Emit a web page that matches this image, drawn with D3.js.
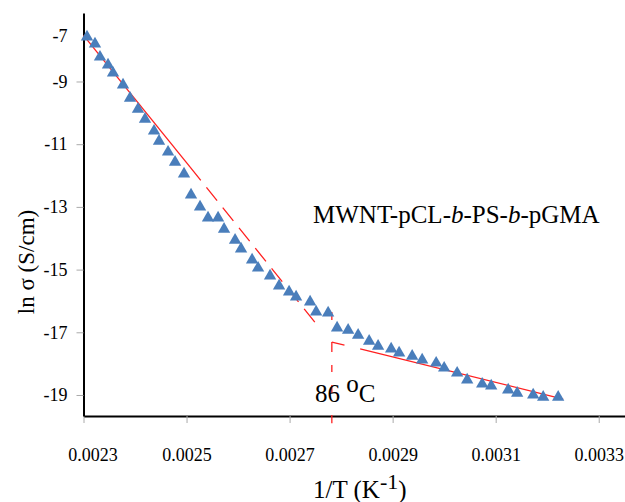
<!DOCTYPE html>
<html lang="en">
<head>
  <meta charset="UTF-8">
  <title>ln sigma vs 1/T</title>
  <style>
    body { margin: 0; background: #fff; }
  </style>
</head>
<body>

  <svg id="svg" width="625" height="502"></svg>

  <script src="https://d3js.org/d3.v7.min.js"></script>
  <script>
    // measured points: 1/T (K^-1) and ln sigma (S/cm)
    const invT = [
      0.0023068, 0.0023223, 0.0023320, 0.0023476, 0.0023573, 0.0023767, 0.0023903, 0.0024058,
      0.0024194, 0.0024369, 0.0024466, 0.0024641, 0.0024777, 0.0024951, 0.0025087, 0.0025262,
      0.0025417, 0.0025612, 0.0025728, 0.0025942, 0.0026058, 0.0026272, 0.0026388, 0.0026621,
      0.0026796, 0.0026990, 0.0027126, 0.0027398, 0.0027515, 0.0027748, 0.0027922, 0.0028136,
      0.0028330, 0.0028544, 0.0028718, 0.0028971, 0.0029126, 0.0029379, 0.0029573, 0.0029845,
      0.0030000, 0.0030252, 0.0030447, 0.0030738, 0.0030913, 0.0031243, 0.0031417, 0.0031728,
      0.0031922, 0.0032213
    ]
    const lnSigma = [
      -7.58, -7.80, -8.22, -8.47, -8.73, -9.11, -9.53, -9.88,
      -10.20, -10.58, -10.90, -11.25, -11.57, -11.95, -12.62, -13.00,
      -13.35, -13.35, -13.71, -14.06, -14.34, -14.69, -14.95, -15.20,
      -15.52, -15.71, -15.87, -16.03, -16.35, -16.38, -16.86, -16.93,
      -17.09, -17.28, -17.44, -17.53, -17.66, -17.76, -17.88, -17.98,
      -18.14, -18.30, -18.52, -18.65, -18.71, -18.84, -18.94, -19.00,
      -19.07, -19.07
    ]

    // linear fits (start, end of solid part, end)
    const fitHighX = [0.0023, 0.002507, 0.00275]
    const fitHighY = [-7.53, -11.73, -16.70]
    const fitLowX = [0.002782, 0.002837, 0.003231]
    const fitLowY = [-17.31, -17.53, -19.13]

    // transition marker at 86 oC
    const transitionX = 0.002782
    const transitionY = [-16.35, -19.9]

    const xTicks = [0.0023, 0.0025, 0.0027, 0.0029, 0.0031, 0.0033]
    const yTicks = [-19, -17, -15, -13, -11, -9, -7]

    const serif = "'Liberation Serif', 'Times New Roman', serif"

    const svg = d3.select('#svg')

    const xScale = d3.scaleLinear()
      .domain([0.0023, 0.003351])
      .range([83.5, 625])

    const yScale = d3.scaleLinear()
      .domain([-19.67, -6.815])
      .range([416, 13])

    // --------------- axes ---------------
    const xAxis = svg.append('g')
      .attr('transform', `translate(0,${yScale.range()[0]})`)
      .call(d3.axisBottom(xScale).tickValues(xTicks).tickSize(7).tickSizeOuter(0).tickFormat(d3.format('.4f')))
      .attr('font-family', serif)
      .attr('font-size', 18)

    xAxis.select('.domain').attr('stroke', '#000').attr('stroke-width', 2)
    xAxis.selectAll('.tick line').attr('stroke', '#aaa')
    xAxis.selectAll('.tick text')
      .attr('y', 32)
      .attr('fill', '#000')
      .attr('dx', (d, i) => i === 0 ? 9 : 0)

    const yAxis = svg.append('g')
      .attr('transform', `translate(${xScale.range()[0]},0)`)
      .call(d3.axisLeft(yScale).tickValues(yTicks).tickSize(7).tickSizeOuter(0).tickFormat(d => String(d)))
      .attr('font-family', serif)
      .attr('font-size', 18)

    yAxis.select('.domain').attr('stroke', '#000').attr('stroke-width', 2)
    yAxis.selectAll('.tick line')
      .attr('stroke', '#aaa')
      .attr('opacity', d => d === -7 ? 0 : 1)
    yAxis.selectAll('.tick text')
      .attr('x', -16)
      .attr('fill', '#000')
      .attr('dy', d => d === -7 ? '1.28em' : '0.32em')

    // --------------- fits ---------------
    const line = d3.line()
      .x(d => xScale(d[0]))
      .y(d => yScale(d[1]))

    const seg = (xs, ys, a, b) => [[xs[a], ys[a]], [xs[b], ys[b]]]

    svg.append('path')
      .attr('d', line(seg(fitHighX, fitHighY, 0, 1)))
      .attr('stroke', '#ff2020').attr('stroke-width', 1.3).attr('fill', 'none')
    svg.append('path')
      .attr('d', line(seg(fitHighX, fitHighY, 1, 2)))
      .attr('stroke', '#ff2020').attr('stroke-width', 1.3).attr('fill', 'none')
      .attr('stroke-dasharray', '17,9')

    svg.append('path')
      .attr('d', line(seg(fitLowX, fitLowY, 0, 1)))
      .attr('stroke', '#ff2020').attr('stroke-width', 1.3).attr('fill', 'none')
      .attr('stroke-dasharray', '13,40')
    svg.append('path')
      .attr('d', line(seg(fitLowX, fitLowY, 1, 2)))
      .attr('stroke', '#ff2020').attr('stroke-width', 1.3).attr('fill', 'none')

    svg.append('path')
      .attr('d', line(transitionY.map(v => [transitionX, v])))
      .attr('stroke', '#ff2020').attr('stroke-width', 1.3).attr('fill', 'none')
      .attr('stroke-dasharray', '8,22,10,13,7,13')

    // --------------- points ---------------
    svg.append('g')
      .selectAll('path')
      .data(invT.map((x, i) => [x, lnSigma[i]]))
      .enter()
      .append('path')
      .attr('d', d3.symbol(d3.symbolTriangle, 66))
      .attr('transform', d => `translate(${xScale(d[0])},${yScale(d[1])})`)
      .attr('fill', '#4a7ebb')

    // --------------- labels ---------------
    const labels = svg.append('g')
      .attr('font-family', serif)
      .attr('font-size', 25)
      .attr('fill', '#000')

    labels.append('text')
      .attr('x', 313)
      .attr('y', 223)
      .html('MWNT-pCL-<tspan font-style="italic">b</tspan>-PS-<tspan font-style="italic">b</tspan>-pGMA')

    labels.append('text')
      .attr('x', 315)
      .attr('y', 402)
      .html('86 <tspan dy="-10">o</tspan><tspan dy="10">C</tspan>')

    labels.append('text')
      .attr('x', 313)
      .attr('y', 498)
      .html('1/T (K<tspan dy="-9" font-size="22">-1</tspan><tspan dy="9">)</tspan>')

    labels.append('text')
      .attr('transform', 'translate(34,262) rotate(-90)')
      .attr('text-anchor', 'middle')
      .attr('font-size', 23)
      .text('ln σ (S/cm)')
  </script>
</body>
</html>
